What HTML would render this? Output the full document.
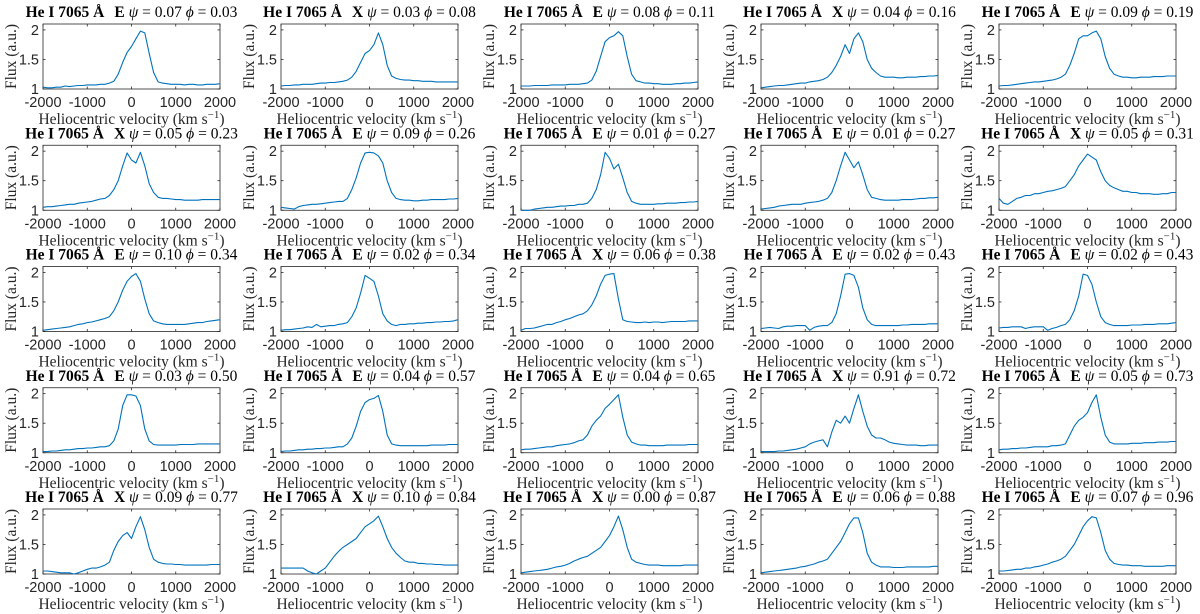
<!DOCTYPE html>
<html><head><meta charset="utf-8">
<style>
html,body{margin:0;padding:0;background:#fff;}
svg{display:block;}
.tt{font-family:"Liberation Serif",serif;font-size:15.5px;}
.tk{font-family:"Liberation Sans",sans-serif;font-size:14.5px;fill:#262626;}
.lb{font-family:"Liberation Serif",serif;font-size:15.5px;fill:#262626;}
</style></head>
<body>
<svg id="fig" width="1200" height="614" xmlns="http://www.w3.org/2000/svg"></svg>
<script>
const velocities = [];
for (let v = -2000; v <= 2000; v += 100) velocities.push(v);
const xTicks = [-2000, -1000, 0, 1000, 2000];
const yTicks = [1, 1.5, 2];
const yTickLabels = ["1", "1.5", "2"];
const xLimits = [-2000, 2000];
const yLimits = [1, 2.1];
const panelType = ["E","X","E","X","E","X","E","E","E","X","E","E","X","E","E","E","E","E","X","E","X","X","X","E","E"];
const psiValues = ["0.07","0.03","0.08","0.04","0.09","0.05","0.09","0.01","0.01","0.05","0.10","0.02","0.06","0.02","0.02","0.03","0.04","0.04","0.91","0.05","0.09","0.10","0.00","0.06","0.07"];
const phiValues = ["0.03","0.08","0.11","0.16","0.19","0.23","0.26","0.27","0.27","0.31","0.34","0.34","0.38","0.43","0.43","0.50","0.57","0.65","0.72","0.73","0.77","0.84","0.87","0.88","0.96"];
const flux = [
[1.03,1.02,1.02,1.03,1.03,1.05,1.04,1.05,1.06,1.06,1.07,1.07,1.07,1.08,1.08, 1.1,1.13,1.25,1.45,1.62,1.72,1.85,1.98,1.95,1.6,1.28, 1.12,1.1,1.09,1.08,1.08,1.08,1.07,1.08,1.08,1.07,1.07,1.08,1.08,1.08,1.09],
[1.05,1.06,1.06,1.07,1.07,1.08,1.08,1.08,1.09,1.1,1.1,1.11,1.11,1.12,1.13, 1.15,1.2,1.3,1.45,1.6,1.65,1.75,1.95,1.75,1.4,1.22, 1.18,1.16,1.15,1.15,1.14,1.14,1.13,1.13,1.13,1.12,1.12,1.12,1.12,1.12,1.12],
[1.05,1.05,1.05,1.06,1.06,1.06,1.06,1.07,1.07,1.07,1.07,1.08,1.08,1.08,1.09, 1.1,1.15,1.3,1.55,1.8,1.87,1.9,1.97,1.9,1.55,1.25, 1.14,1.12,1.1,1.1,1.09,1.09,1.08,1.08,1.08,1.09,1.09,1.1,1.1,1.11,1.12],
[1.02,1.03,1.04,1.05,1.06,1.06,1.07,1.08,1.09,1.1,1.1,1.12,1.13,1.14,1.16, 1.2,1.28,1.4,1.55,1.75,1.6,1.85,1.95,1.8,1.5,1.35, 1.28,1.22,1.2,1.2,1.2,1.19,1.19,1.2,1.2,1.2,1.21,1.21,1.22,1.22,1.23],
[1.05,1.06,1.06,1.07,1.08,1.09,1.1,1.11,1.12,1.12,1.13,1.14,1.15,1.17,1.2, 1.25,1.4,1.6,1.85,1.9,1.9,1.95,1.98,1.85,1.55,1.35, 1.25,1.22,1.2,1.2,1.19,1.19,1.2,1.2,1.2,1.21,1.21,1.21,1.22,1.22,1.22],
[1.05,1.06,1.06,1.07,1.08,1.09,1.1,1.1,1.12,1.13,1.14,1.15,1.17,1.19,1.2, 1.25,1.35,1.5,1.75,1.97,1.85,1.8,1.98,1.75,1.45,1.3, 1.22,1.2,1.2,1.19,1.18,1.18,1.17,1.17,1.17,1.17,1.18,1.18,1.18,1.18,1.18],
[1.05,1.04,1.03,1.02,1.06,1.08,1.09,1.1,1.1,1.11,1.12,1.13,1.14,1.15,1.15, 1.2,1.35,1.55,1.8,1.97,1.98,1.97,1.92,1.8,1.5,1.3, 1.2,1.18,1.17,1.17,1.16,1.16,1.17,1.17,1.18,1.18,1.18,1.18,1.19,1.19,1.2],
[1.0,1.0,1.0,1.02,1.03,1.04,1.05,1.05,1.06,1.07,1.07,1.08,1.08,1.1,1.1, 1.12,1.2,1.35,1.6,1.98,1.88,1.7,1.78,1.55,1.3,1.15, 1.12,1.1,1.1,1.1,1.1,1.11,1.11,1.12,1.12,1.12,1.13,1.13,1.14,1.14,1.15],
[1.02,1.03,1.04,1.05,1.07,1.08,1.09,1.1,1.1,1.1,1.12,1.13,1.14,1.15,1.17, 1.2,1.3,1.5,1.75,1.98,1.85,1.72,1.82,1.6,1.35,1.22, 1.2,1.18,1.17,1.17,1.17,1.17,1.18,1.18,1.18,1.19,1.2,1.2,1.21,1.21,1.22],
[1.2,1.12,1.1,1.15,1.2,1.22,1.25,1.25,1.28,1.28,1.3,1.32,1.33,1.35,1.37, 1.4,1.5,1.6,1.75,1.85,1.95,1.9,1.85,1.65,1.5,1.42, 1.38,1.35,1.32,1.32,1.3,1.3,1.28,1.28,1.28,1.27,1.27,1.28,1.28,1.3,1.3],
[1.02,1.03,1.04,1.05,1.06,1.07,1.08,1.1,1.12,1.13,1.15,1.16,1.18,1.2,1.22, 1.25,1.35,1.5,1.7,1.85,1.93,1.98,1.85,1.55,1.3,1.18, 1.15,1.13,1.12,1.12,1.12,1.12,1.12,1.13,1.14,1.15,1.15,1.17,1.18,1.19,1.2],
[1.02,1.03,1.03,1.04,1.05,1.06,1.08,1.07,1.12,1.08,1.09,1.1,1.1,1.12,1.13, 1.15,1.25,1.4,1.65,1.95,1.9,1.85,1.6,1.3,1.18,1.12, 1.1,1.12,1.12,1.13,1.13,1.14,1.14,1.15,1.15,1.16,1.16,1.17,1.17,1.18,1.2],
[1.02,1.05,1.05,1.06,1.08,1.1,1.12,1.12,1.15,1.17,1.2,1.22,1.25,1.28,1.3, 1.35,1.45,1.6,1.8,1.95,1.97,1.98,1.55,1.2,1.17,1.16, 1.15,1.15,1.16,1.15,1.16,1.16,1.15,1.16,1.17,1.17,1.17,1.17,1.18,1.18,1.18],
[1.05,1.06,1.07,1.06,1.05,1.08,1.09,1.09,1.1,1.1,1.1,1.02,1.07,1.09,1.1, 1.1,1.15,1.3,1.6,1.97,1.98,1.95,1.75,1.4,1.2,1.12, 1.1,1.1,1.1,1.1,1.1,1.1,1.11,1.11,1.12,1.12,1.12,1.12,1.13,1.13,1.13],
[1.06,1.07,1.07,1.08,1.08,1.08,1.05,1.07,1.08,1.08,1.08,1.02,1.05,1.07,1.1, 1.12,1.2,1.35,1.6,1.97,1.95,1.8,1.5,1.25,1.15,1.12, 1.1,1.1,1.1,1.1,1.11,1.11,1.11,1.12,1.12,1.12,1.13,1.13,1.13,1.14,1.15],
[1.02,1.02,1.03,1.03,1.04,1.05,1.05,1.06,1.07,1.07,1.08,1.08,1.09,1.1,1.1, 1.12,1.2,1.4,1.8,1.98,1.98,1.96,1.8,1.4,1.2,1.14, 1.13,1.13,1.13,1.13,1.13,1.14,1.14,1.14,1.14,1.15,1.15,1.15,1.15,1.15,1.15],
[1.02,1.03,1.03,1.04,1.05,1.05,1.06,1.06,1.07,1.07,1.08,1.08,1.09,1.1,1.1, 1.15,1.25,1.45,1.7,1.85,1.9,1.92,1.97,1.7,1.3,1.15, 1.13,1.12,1.12,1.12,1.12,1.12,1.12,1.12,1.13,1.13,1.13,1.13,1.14,1.14,1.14],
[1.05,1.06,1.06,1.07,1.08,1.09,1.1,1.1,1.12,1.13,1.14,1.15,1.17,1.2,1.22, 1.3,1.45,1.55,1.62,1.75,1.82,1.9,1.98,1.6,1.3,1.18, 1.15,1.13,1.13,1.12,1.12,1.12,1.12,1.13,1.13,1.13,1.13,1.13,1.14,1.14,1.14],
[1.02,1.02,1.02,1.02,1.03,1.03,1.04,1.05,1.06,1.08,1.1,1.15,1.18,1.2,1.22, 1.1,1.35,1.55,1.5,1.62,1.5,1.75,1.98,1.7,1.45,1.3, 1.25,1.25,1.22,1.18,1.16,1.15,1.14,1.13,1.13,1.13,1.12,1.12,1.13,1.13,1.13],
[1.05,1.06,1.06,1.07,1.07,1.08,1.08,1.09,1.1,1.1,1.1,1.1,1.12,1.12,1.13, 1.15,1.3,1.45,1.55,1.6,1.68,1.85,1.98,1.6,1.3,1.18, 1.15,1.15,1.15,1.15,1.16,1.16,1.16,1.17,1.17,1.17,1.18,1.18,1.18,1.19,1.19],
[1.05,1.05,1.04,1.03,1.02,1.02,1.02,1.0,1.02,1.05,1.08,1.1,1.1,1.12,1.15, 1.2,1.4,1.55,1.65,1.7,1.6,1.8,1.97,1.75,1.45,1.25, 1.2,1.18,1.17,1.17,1.16,1.16,1.15,1.15,1.15,1.15,1.15,1.15,1.16,1.16,1.16],
[1.1,1.1,1.1,1.1,1.1,1.1,1.05,1.02,1.0,1.05,1.1,1.2,1.3,1.38,1.45, 1.5,1.55,1.6,1.7,1.8,1.85,1.9,1.98,1.8,1.6,1.45, 1.35,1.28,1.22,1.2,1.2,1.18,1.18,1.17,1.17,1.16,1.16,1.15,1.15,1.15,1.15],
[1.02,1.03,1.04,1.05,1.06,1.07,1.08,1.1,1.12,1.13,1.15,1.18,1.22,1.25,1.28, 1.3,1.35,1.4,1.45,1.55,1.65,1.8,1.98,1.75,1.45,1.25, 1.2,1.18,1.16,1.15,1.15,1.15,1.14,1.14,1.14,1.14,1.14,1.15,1.15,1.15,1.15],
[1.02,1.03,1.04,1.05,1.06,1.07,1.08,1.09,1.1,1.12,1.13,1.15,1.17,1.2,1.22, 1.25,1.35,1.45,1.55,1.7,1.85,1.95,1.95,1.7,1.35,1.2, 1.15,1.12,1.12,1.12,1.11,1.11,1.11,1.12,1.12,1.12,1.12,1.12,1.12,1.13,1.13],
[1.05,1.05,1.06,1.07,1.08,1.08,1.1,1.1,1.12,1.13,1.15,1.17,1.2,1.22,1.25, 1.3,1.4,1.5,1.65,1.8,1.9,1.97,1.95,1.7,1.4,1.25, 1.18,1.16,1.15,1.15,1.14,1.14,1.14,1.13,1.13,1.13,1.13,1.13,1.14,1.14,1.14]
];

const NS = "http://www.w3.org/2000/svg";
const svg = document.getElementById("fig");
const colLeft = [43, 281, 521, 761, 999];
const W = 177, H = 65, ROW0 = 24, ROWSTEP = 121.25;
function mk(tag, attrs, parent) {
  const e = document.createElementNS(NS, tag);
  for (const k in attrs) e.setAttribute(k, attrs[k]);
  parent.appendChild(e);
  return e;
}
for (let i = 0; i < flux.length; i++) {
  const r = Math.floor(i / 5), c = i % 5;
  const L = colLeft[c], T = ROW0 + r * ROWSTEP;
  const xs = v => L + (v - xLimits[0]) / (xLimits[1] - xLimits[0]) * W;
  const ys = f => T + H - (f - yLimits[0]) / (yLimits[1] - yLimits[0]) * H;
  const g = mk("g", {}, svg);
  
  
  const box = mk("rect", {x: L, y: T, width: W, height: H, fill: "#fff", stroke: "#262626", "stroke-width": 0.8}, g);
  
  
  xTicks.forEach(v => {
    const x = xs(v);
    mk("line", {x1: x, x2: x, y1: T + H, y2: T + H - 2.5, stroke: "#262626", "stroke-width": 0.8}, g);
    mk("line", {x1: x, x2: x, y1: T, y2: T + 2.5, stroke: "#262626", "stroke-width": 0.8}, g);
    const t = mk("text", {x: x, y: T + H + 18, "text-anchor": "middle", class: "tk"}, g);
    t.textContent = v;
    
    
  });
  yTicks.forEach((f, j) => {
    const y = ys(f);
    mk("line", {x1: L, x2: L + 2.5, y1: y, y2: y, stroke: "#262626", "stroke-width": 0.8}, g);
    mk("line", {x1: L + W, x2: L + W - 2.5, y1: y, y2: y, stroke: "#262626", "stroke-width": 0.8}, g);
    const t = mk("text", {x: L - 4, y: y + 5, "text-anchor": "end", class: "tk"}, g);
    t.textContent = yTickLabels[j];
    
    
  });
  const pts = velocities.map((v, k) => xs(v).toFixed(1) + "," + ys(flux[i][k]).toFixed(1)).join(" ");
  const pl = mk("polyline", {points: pts, fill: "none", stroke: "#0072BD", "stroke-width": 1.1, "stroke-linejoin": "round"}, g);
  
  
  const ttl = mk("text", {x: L + W / 2, y: T - 7, "text-anchor": "middle", class: "tt"}, g);
  
  
  ttl.innerHTML = '<tspan font-weight="bold">He I 7065 Å</tspan><tspan font-weight="bold" dx="10">' + panelType[i] + '</tspan> <tspan font-style="italic">ψ</tspan> = ' + psiValues[i] + ' <tspan font-style="italic">ϕ</tspan> = ' + phiValues[i];
  const xl = mk("text", {x: L + W / 2, y: T + H + 35, "text-anchor": "middle", class: "lb"}, g);
  
  
  xl.innerHTML = 'Heliocentric velocity (km s<tspan dy="-6" font-size="11">−1</tspan><tspan dy="6">)</tspan>';
  const yl = mk("text", {x: 0, y: 0, "text-anchor": "middle", class: "lb", transform: "translate(" + (L - 27) + "," + (T + H / 2) + ") rotate(-90)"}, g);
  
  
  yl.textContent = "Flux (a.u.)";
}
</script>
</body></html>
